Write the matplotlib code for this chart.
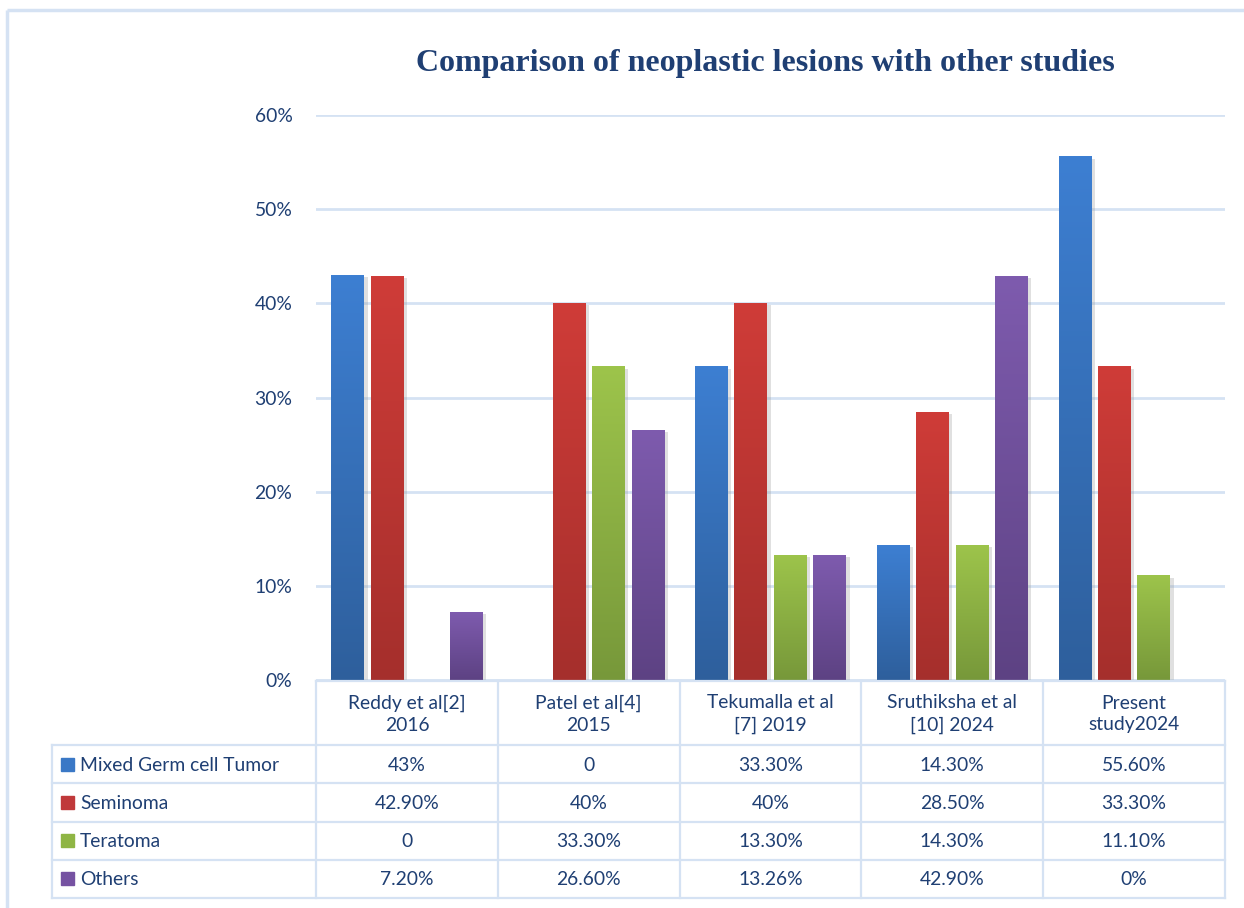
import numpy as np
import matplotlib.pyplot as plt
from matplotlib import patheffects as pe
from matplotlib.colors import LinearSegmentedColormap

# Study groups and reported proportions (%)
studies = ["Reddy et al[2]\n2016", "Patel et al[4]\n2015", "Tekumalla et al\n[7] 2019",
           "Sruthiksha et al\n[10] 2024", "Present\nstudy2024"]
series = ["Mixed Germ cell Tumor", "Seminoma", "Teratoma", "Others"]
mixed_germ = [43.0, 0.0, 33.3, 14.3, 55.6]
seminoma = [42.9, 40.0, 40.0, 28.5, 33.3]
teratoma = [0.0, 33.3, 13.3, 14.3, 11.1]
others = [7.2, 26.6, 13.26, 42.9, 0.0]
values = [mixed_germ, seminoma, teratoma, others]

# Data-table text as reported
mixed_lbl = ["43%", "0", "33.30%", "14.30%", "55.60%"]
sem_lbl = ["42.90%", "40%", "40%", "28.50%", "33.30%"]
ter_lbl = ["0", "33.30%", "13.30%", "14.30%", "11.10%"]
oth_lbl = ["7.20%", "26.60%", "13.26%", "42.90%", "0%"]
table_lbls = [mixed_lbl, sem_lbl, ter_lbl, oth_lbl]

yticks = [0, 10, 20, 30, 40, 50, 60]

# (top colour, bottom colour) for each series gradient
grad = [("#3d7fd2", "#2e5f9c"), ("#cf3c38", "#a52f2c"),
        ("#9dc44b", "#77983a"), ("#7e5bae", "#5d4283")]
swatch = ["#3a78c6", "#c0393a", "#8fb544", "#7652a2"]

TXT = "#1f3f73"
LINE = "#d5e2f3"
FS = 13.9

W, H = 1244, 908
fig = plt.figure(figsize=(W / 100, H / 100), dpi=100)
plt.rcParams["font.family"] = ["Lato", "DejaVu Sans"]

# plot area in pixel coordinates
x0, x1 = 316, 1225
y_top, y_base = 115, 680
ax = fig.add_axes([x0 / W, 1 - y_base / H, (x1 - x0) / W, (y_base - y_top) / H])
for s in ax.spines.values():
    s.set_visible(False)
ax.set_xticks([])
ax.set_yticks(yticks)
ax.set_yticklabels([f"{t}%" for t in yticks], fontsize=FS, color=TXT)
ax.tick_params(axis="y", length=0, pad=17)
ax.yaxis.grid(True, color=LINE, linewidth=2)
ax.set_axisbelow(True)

bw = 0.18
step = 0.217
xs = np.arange(len(studies))
for i, vals in enumerate(values):
    offs = (i - 1.5) * step
    bars = ax.bar(xs + offs, vals, width=bw, color=grad[i][0], zorder=2,
                  path_effects=[pe.SimplePatchShadow(offset=(2.5, -1.5), shadow_rgbFace="#999999", alpha=0.3),
                                pe.Normal()])
    cmap = LinearSegmentedColormap.from_list(f"g{i}", [grad[i][1], grad[i][0]])
    for b in bars:
        h = b.get_height()
        if h <= 0:
            continue
        bx = b.get_x()
        im = ax.imshow(np.linspace(0, 1, 256).reshape(-1, 1), cmap=cmap, origin="lower",
                       extent=[bx, bx + b.get_width(), 0, h], aspect="auto", zorder=3)
        im.set_clip_path(b)
ax.set_xlim(-0.5, len(studies) - 0.5)
ax.set_ylim(0, 60)

# overlay in pixel coordinates for title, table and frame
ov = fig.add_axes([0, 0, 1, 1], zorder=5)
ov.set_xlim(0, W)
ov.set_ylim(H, 0)
ov.axis("off")
ov.patch.set_alpha(0)

# outer frame (top and left edges)
ov.plot([7, W], [10, 10], color=LINE, lw=2.5, solid_capstyle="butt")
ov.plot([7, 7], [10, H], color=LINE, lw=2.5, solid_capstyle="butt")

ov.text(765, 63, "Comparison of neoplastic lesions with other studies",
        family="Liberation Serif", fontweight="bold", fontsize=23, color=TXT,
        ha="center", va="center")

# data table
col_w = (x1 - x0) / len(studies)
col_edges = [x0 + k * col_w for k in range(len(studies) + 1)]
head_top, head_bot = 681, 745
row_h = (898 - head_bot) / 4
row_edges = [head_bot + r * row_h for r in range(5)]
tl = 52

lw = 1.6
ov.plot([x0, x1], [head_top, head_top], color=LINE, lw=lw)
for ry in row_edges:
    ov.plot([tl, x1], [ry, ry], color=LINE, lw=lw)
ov.plot([tl, tl], [head_bot, row_edges[-1]], color=LINE, lw=lw)
for cx in col_edges:
    ov.plot([cx, cx], [head_top, row_edges[-1]], color=LINE, lw=lw)

for k, name in enumerate(studies):
    cx = (col_edges[k] + col_edges[k + 1]) / 2
    ov.text(cx, (head_top + head_bot) / 2 + 1, name, ha="center", va="center",
            fontsize=FS, color=TXT, linespacing=1.35)

for r, name in enumerate(series):
    cy = (row_edges[r] + row_edges[r + 1]) / 2
    ov.add_patch(plt.Rectangle((61, cy - 6.5), 13, 13, color=swatch[r]))
    ov.text(80, cy + 1, name, ha="left", va="center", fontsize=FS, color=TXT)
    for k in range(len(studies)):
        cx = (col_edges[k] + col_edges[k + 1]) / 2
        ov.text(cx, cy + 1, table_lbls[r][k], ha="center", va="center",
                fontsize=FS, color=TXT)

fig.savefig("out.png", dpi=100, facecolor="white")
